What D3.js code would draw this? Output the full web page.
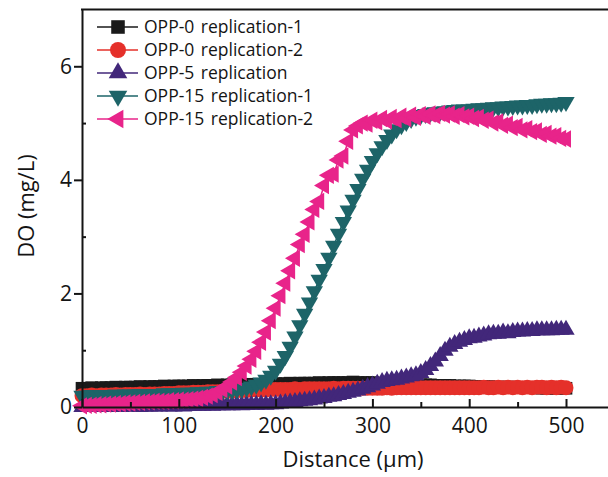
<!DOCTYPE html>
<html>
<head>
<meta charset="utf-8">
<script src="https://cdn.jsdelivr.net/npm/d3@7"></script>
<style>
  body { margin: 0; background: #fff; }
  text { font-family: "Open Sans", "Noto Sans", sans-serif; }
</style>
</head>
<body>
<div id="chart"></div>
<script>
// distance (um)
const distance = [
  0,5,10,15,20,25,30,35,40,45,
  50,55,60,65,70,75,80,85,90,95,
  100,105,110,115,120,125,130,135,140,145,
  150,155,160,165,170,175,180,185,190,195,
  200,205,210,215,220,225,230,235,240,245,
  250,255,260,265,270,275,280,285,290,295,
  300,305,310,315,320,325,330,335,340,345,
  350,355,360,365,370,375,380,385,390,395,
  400,405,410,415,420,425,430,435,440,445,
  450,455,460,465,470,475,480,485,490,495,
  500
];

const opp0rep1 = [
  0.33,0.33,0.34,0.33,0.34,0.34,0.34,0.35,0.34,0.35,
  0.35,0.35,0.36,0.35,0.36,0.36,0.36,0.37,0.36,0.37,
  0.37,0.37,0.37,0.38,0.37,0.38,0.38,0.38,0.39,0.38,
  0.39,0.39,0.39,0.40,0.39,0.40,0.40,0.40,0.41,0.40,
  0.41,0.41,0.41,0.42,0.41,0.42,0.42,0.42,0.42,0.43,
  0.42,0.43,0.43,0.43,0.43,0.43,0.44,0.43,0.43,0.43,
  0.43,0.42,0.42,0.42,0.41,0.41,0.41,0.40,0.40,0.40,
  0.39,0.39,0.39,0.38,0.38,0.38,0.38,0.37,0.37,0.37,
  0.37,0.36,0.36,0.36,0.36,0.35,0.35,0.35,0.35,0.35,
  0.34,0.34,0.34,0.34,0.34,0.33,0.33,0.33,0.33,0.33,
  0.33
];

const opp0rep2 = [
  0.20,0.20,0.21,0.20,0.21,0.21,0.21,0.22,0.21,0.22,
  0.22,0.22,0.23,0.22,0.23,0.23,0.23,0.24,0.24,0.24,
  0.25,0.25,0.25,0.26,0.26,0.26,0.27,0.27,0.27,0.28,
  0.28,0.28,0.29,0.29,0.29,0.30,0.30,0.30,0.30,0.31,
  0.31,0.31,0.31,0.31,0.32,0.31,0.32,0.32,0.32,0.32,
  0.32,0.32,0.33,0.32,0.33,0.33,0.33,0.33,0.33,0.33,
  0.33,0.33,0.33,0.34,0.33,0.34,0.34,0.34,0.34,0.34,
  0.34,0.34,0.34,0.34,0.34,0.34,0.34,0.34,0.34,0.34,
  0.34,0.34,0.34,0.35,0.34,0.34,0.35,0.34,0.35,0.34,
  0.35,0.34,0.35,0.34,0.35,0.35,0.34,0.35,0.34,0.35,
  0.34
];

const opp5 = [
  0.00,0.00,0.01,0.00,0.01,0.00,0.01,0.01,0.00,0.01,
  0.01,0.01,0.00,0.01,0.01,0.01,0.01,0.02,0.01,0.01,
  0.02,0.01,0.02,0.02,0.02,0.02,0.03,0.02,0.03,0.03,
  0.03,0.03,0.04,0.03,0.04,0.04,0.04,0.05,0.04,0.05,
  0.05,0.06,0.07,0.08,0.09,0.10,0.11,0.12,0.13,0.15,
  0.16,0.18,0.19,0.21,0.23,0.25,0.27,0.29,0.32,0.35,
  0.38,0.41,0.44,0.46,0.47,0.48,0.50,0.52,0.54,0.56,
  0.60,0.65,0.72,0.80,0.90,0.99,1.06,1.11,1.15,1.18,
  1.21,1.22,1.24,1.26,1.28,1.29,1.29,1.31,1.30,1.32,
  1.33,1.33,1.34,1.34,1.35,1.35,1.35,1.35,1.36,1.36,
  1.36
];

const opp15rep1 = [
  0.20,0.20,0.21,0.20,0.21,0.21,0.21,0.22,0.21,0.22,
  0.22,0.22,0.23,0.22,0.23,0.23,0.23,0.24,0.24,0.24,
  0.24,0.25,0.25,0.25,0.26,0.26,0.27,0.27,0.28,0.28,
  0.29,0.30,0.31,0.32,0.34,0.36,0.39,0.43,0.48,0.55,
  0.64,0.76,0.90,1.06,1.24,1.44,1.64,1.84,2.04,2.24,
  2.43,2.63,2.84,3.05,3.26,3.46,3.65,3.84,4.02,4.18,
  4.33,4.47,4.59,4.70,4.80,4.89,4.96,5.02,5.07,5.11,
  5.14,5.16,5.18,5.19,5.20,5.21,5.22,5.23,5.24,5.24,
  5.24,5.25,5.26,5.26,5.27,5.28,5.28,5.29,5.29,5.30,
  5.31,5.31,5.32,5.32,5.33,5.34,5.34,5.35,5.35,5.36,
  5.37
];

const opp15rep2 = [
  0.02,0.03,0.03,0.04,0.04,0.05,0.05,0.06,0.06,0.07,
  0.07,0.08,0.08,0.09,0.09,0.10,0.10,0.10,0.11,0.11,
  0.12,0.12,0.13,0.14,0.15,0.17,0.19,0.22,0.26,0.31,
  0.37,0.44,0.52,0.61,0.72,0.84,0.98,1.14,1.32,1.52,
  1.74,1.96,2.18,2.40,2.62,2.86,3.04,3.26,3.48,3.62,
  3.90,4.08,4.10,4.35,4.42,4.68,4.88,4.95,5.00,4.98,
  5.05,5.02,5.08,5.04,5.10,5.06,5.12,5.08,5.14,5.10,
  5.15,5.12,5.16,5.13,5.17,5.14,5.16,5.12,5.15,5.11,
  5.12,5.08,5.10,5.05,5.07,5.00,5.02,4.96,4.98,4.92,
  4.94,4.88,4.90,4.85,4.86,4.80,4.82,4.77,4.78,4.73,
  4.72
];

const seriesNames = ["OPP-0 replication-1", "OPP-0 replication-2", "OPP-5 replication",
  "OPP-15 replication-1", "OPP-15 replication-2"];
const seriesValues = [opp0rep1, opp0rep2, opp5, opp15rep1, opp15rep2];

const xTicks = [0, 100, 200, 300, 400, 500];
const xMinor = [50, 150, 250, 350, 450];
const yTicks = [0, 2, 4, 6];
const yMinor = [1, 3, 5];

// look of each series
const colors = ["#1a1a1a", "#e5302a", "#42277a", "#1d6468", "#e8248a"];
const shapes = [
  { type: d3.symbolSquare, size: 160, rot: 0 },
  { type: d3.symbolCircle, size: 175, rot: 0 },
  { type: d3.symbolTriangle, size: 130, rot: 0 },
  { type: d3.symbolTriangle, size: 130, rot: 180 },
  { type: d3.symbolTriangle, size: 130, rot: -90 }
];

const width = 608;
const height = 477;
const ink = "#141414";

const x = d3.scaleLinear().domain([0, 547]).range([82, 611.5]);
const y = d3.scaleLinear().domain([0, 7]).range([407, 9.5]);

const svg = d3.select("#chart").append("svg")
  .attr("width", width)
  .attr("height", height);

// series: line + markers
const line = d3.line()
  .x((d) => x(d[0]))
  .y((d) => y(d[1]));

seriesValues.forEach((vals, i) => {
  const pts = distance.map((d, j) => [d, vals[j]]);
  const g = svg.append("g");
  g.append("path")
    .datum(pts)
    .attr("fill", "none")
    .attr("stroke", colors[i])
    .attr("stroke-width", 1.5)
    .attr("d", line);
  const sym = d3.symbol().type(shapes[i].type).size(shapes[i].size);
  g.selectAll("path.m")
    .data(pts)
    .join("path")
    .attr("class", "m")
    .attr("d", sym)
    .attr("fill", colors[i])
    .attr("transform", (d) => `translate(${x(d[0])},${y(d[1])}) rotate(${shapes[i].rot})`);
});

// axes
svg.append("g")
  .attr("transform", `translate(0,${y(0)})`)
  .call(d3.axisBottom(x).tickValues(xTicks).tickSizeInner(-8).tickSizeOuter(0).tickPadding(11));
svg.append("g")
  .attr("transform", `translate(0,${y(0)})`)
  .call(d3.axisBottom(x).tickValues(xMinor).tickSizeInner(-5).tickSizeOuter(0).tickFormat(""))
  .call((g) => g.select(".domain").remove());

svg.append("g")
  .attr("transform", `translate(${x(0)},0)`)
  .call(d3.axisLeft(y).tickValues(yTicks).tickFormat(d3.format("d"))
    .tickSizeInner(8).tickSizeOuter(0).tickPadding(2));
svg.append("g")
  .attr("transform", `translate(${x(0)},0)`)
  .call(d3.axisLeft(y).tickValues(yMinor).tickSizeInner(-4).tickSizeOuter(0).tickFormat(""))
  .call((g) => g.select(".domain").remove());

svg.selectAll(".tick line").attr("stroke", ink).attr("stroke-width", 2);
svg.selectAll(".domain").attr("stroke", ink).attr("stroke-width", 2);
svg.selectAll(".tick text")
  .attr("font-size", 21)
  .attr("fill", ink)
  .style("font-family", "'Open Sans', sans-serif");

// top frame line
svg.append("line")
  .attr("x1", x(0) - 1).attr("x2", width)
  .attr("y1", y(7)).attr("y2", y(7))
  .attr("stroke", ink)
  .attr("stroke-width", 2);

// axis titles
svg.append("text")
  .attr("x", 353).attr("y", 467)
  .attr("text-anchor", "middle")
  .attr("font-size", 22)
  .attr("fill", ink)
  .text("Distance (μm)");

svg.append("text")
  .attr("transform", "translate(34,206) rotate(-90)")
  .attr("text-anchor", "middle")
  .attr("font-size", 22)
  .attr("fill", ink)
  .text("DO (mg/L)");

// legend
const legend = svg.append("g");
seriesNames.forEach((name, i) => {
  const ly = 27 + i * 23;
  legend.append("line")
    .attr("x1", 97).attr("x2", 138)
    .attr("y1", ly).attr("y2", ly)
    .attr("stroke", colors[i])
    .attr("stroke-width", 1.5);
  legend.append("path")
    .attr("d", d3.symbol().type(shapes[i].type).size(shapes[i].size * 1.15)())
    .attr("fill", colors[i])
    .attr("transform", `translate(118,${ly}) rotate(${shapes[i].rot})`);
  legend.append("text")
    .attr("x", 144).attr("y", ly + 6)
    .attr("font-size", 17.5)
    .attr("fill", ink)
    .attr("word-spacing", 2)
    .text(name);
});
</script>
</body>
</html>
